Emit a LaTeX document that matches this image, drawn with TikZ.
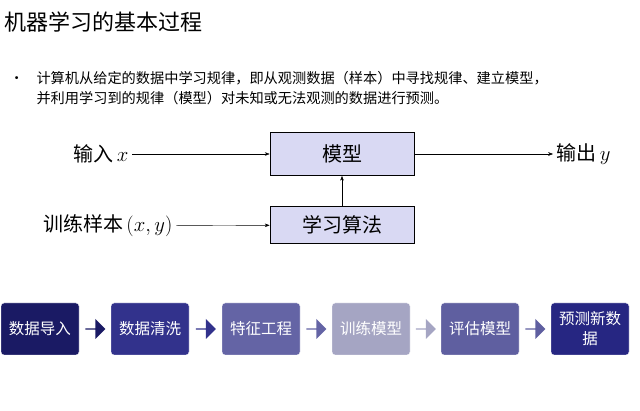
\documentclass[tikz,border=0pt]{standalone}
\usepackage{fontspec}
\setmainfont{Liberation Sans}
\newfontfamily\cjk{Noto Sans CJK SC}
\usetikzlibrary{arrows.meta, positioning, shapes.arrows, calc}
\definecolor{boxfill}{RGB}{217, 217, 243}
\definecolor{stepA}{RGB}{26, 26, 100}
\definecolor{stepB}{RGB}{50, 50, 140}
\definecolor{stepC}{RGB}{100, 100, 165}
\definecolor{stepD}{RGB}{165, 165, 195}
\definecolor{stepE}{RGB}{95, 95, 160}
\definecolor{stepF}{RGB}{38, 38, 130}
\tikzset{
  model/.style={draw=black, fill=boxfill, line width=0.8, minimum width=144,
    font=\cjk\fontsize{20}{20}\selectfont},
  flowbox/.style={draw=white, rounded corners=3, minimum width=78, minimum height=52,
    text=white, align=center, font=\cjk\fontsize{15.5}{20}\selectfont},
  chev/.style={single arrow, fill=stepB, minimum height=20, minimum width=20,
    single arrow head extend=3, inner sep=0},
  plain/.style={font=\cjk\fontsize{20}{20}\selectfont},
}
\begin{document}
\begin{tikzpicture}[x=1pt, y=-1pt, >=Stealth]
\useasboundingbox (0,0) rectangle (640,411);

\node[anchor=west, font=\cjk\fontsize{22}{22}\selectfont] (title) at (1,22) {机器学习的基本过程};
\node[anchor=north west, font=\cjk\fontsize{14.2}{20}\selectfont, text width=620] (text) at (6,68)
  {\makebox[27pt][l]{•}计算机从给定的数据中学习规律，即从观测数据（样本）中寻找规律、建立模型，\\
   \hspace*{27pt}并利用学习到的规律（模型）对未知或无法观测的数据进行预测。};

%%% model part
\node[model, minimum height=43] (mdl) at (342,154) {模型};
\node[model, minimum height=37] (learn) at (342,225) {学习算法};
\node[plain, anchor=east] (in) at (132,154) {输入\,$x$};
\node[plain, anchor=west] (out) at (553,154) {输出\,$y$};
\node[plain, anchor=east] (train) at (176,226) {训练样本\,$(x,y)$};
\draw[->] (in) -- (mdl);
\draw[->] (mdl) -- (out);
\draw[->] (train) -- (learn);
\draw[->] (learn) -- (mdl);

%%% flow
\node[flowbox, fill=stepA] (f1) at (40,329) {数据导入};
\node[flowbox, fill=stepB] (f2) at (150,329) {数据清洗};
\node[flowbox, fill=stepC] (f3) at (261,329) {特征工程};
\node[flowbox, fill=stepD] (f4) at (371,329) {训练模型};
\node[flowbox, fill=stepE] (f5) at (480,329) {评估模型};
\node[flowbox, fill=stepF] (f6) at (590,329) {预测新数\\据};
\node[chev, fill=stepA] at ($(f1)!0.5!(f2)$) {};
\node[chev, fill=stepB] at ($(f2)!0.5!(f3)$) {};
\node[chev, fill=stepC] at ($(f3)!0.5!(f4)$) {};
\node[chev, fill=stepD] at ($(f4)!0.5!(f5)$) {};
\node[chev, fill=stepE] at ($(f5)!0.5!(f6)$) {};
\end{tikzpicture}
\end{document}
